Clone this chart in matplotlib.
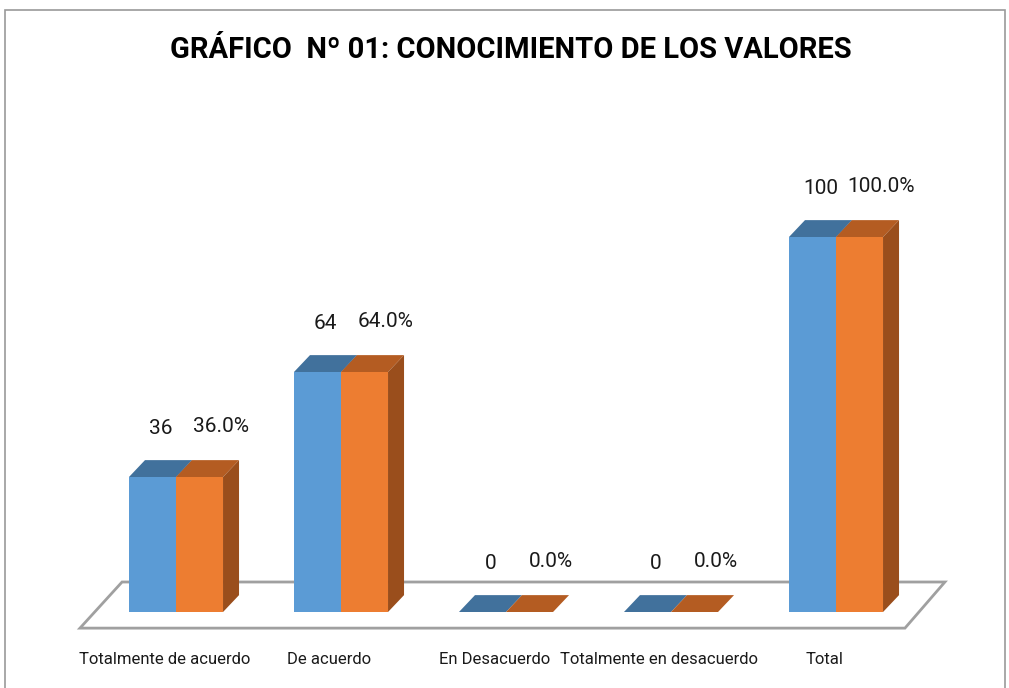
import matplotlib

matplotlib.use("Agg")

import matplotlib.pyplot as plt
from matplotlib.patches import Polygon, Rectangle

categories = ["Totalmente de acuerdo", "De acuerdo", "En Desacuerdo",
              "Totalmente en desacuerdo", "Total"]
counts = [36, 64, 0, 0, 100]
percents = [36.0, 64.0, 0.0, 0.0, 100.0]

FONT = ["Roboto", "DejaVu Sans"]

# bar geometry in data units
W = 0.285          # width of one bar
DX = 0.097         # depth offset, x
DY = 4.5           # depth offset, y

BLUE = ("#5B9BD5", "#41719C", "#3C6A93")
ORANGE = ("#ED7D31", "#B45C22", "#9A4E1C")


def bar3d(ax, x0, h, colors):
    front, top, side = colors
    ax.add_patch(Polygon([(x0, 0), (x0 + W, 0), (x0 + W, h), (x0, h)],
                         closed=True, facecolor=front, edgecolor="none", zorder=3))
    ax.add_patch(Polygon([(x0, h), (x0 + W, h), (x0 + W + DX, h + DY), (x0 + DX, h + DY)],
                         closed=True, facecolor=top, edgecolor="none", zorder=3))
    if h > 0:
        ax.add_patch(Polygon([(x0 + W, 0), (x0 + W + DX, DY), (x0 + W + DX, h + DY), (x0 + W, h)],
                             closed=True, facecolor=side, edgecolor="none", zorder=3))


fig = plt.figure(figsize=(10.09, 6.88), dpi=100)
ax = fig.add_axes([0, 0, 1, 1])
ax.set_xlim(-176 / 165, (1009 - 176) / 165)
ax.set_ylim(-76 / 3.75, 612 / 3.75)
ax.axis("off")

# chart frame
fig.patches.append(Rectangle((5 / 1009, -0.01), 1000 / 1009, 1 - 10 / 688 + 0.01,
                             transform=fig.transFigure, fill=False,
                             edgecolor="#9a9a9a", linewidth=1.2))

# floor
floor = Polygon([(-0.582, -4.3), (-0.327, 8.0), (4.66, 8.0), (4.418, -4.3)],
                closed=True, facecolor="white", edgecolor="#a0a0a0", linewidth=2, zorder=1)
ax.add_patch(floor)

for i, (c, p) in enumerate(zip(counts, percents)):
    bar3d(ax, i - W, c, BLUE)
    bar3d(ax, i, p, ORANGE)
    ax.text(i - W / 2 + DX / 2, c + DY + 8.5, f"{c}", ha="center", va="center",
            fontsize=15, family=FONT, color="#1a1a1a")
    ax.text(i + W / 2 + 0.13, p + DY + 9.0, f"{p:.1f}%", ha="center", va="center",
            fontsize=15, family=FONT, color="#1a1a1a")
    ax.text(i - 0.07, -12.8, categories[i], ha="center", va="center",
            fontsize=12, family=FONT, color="#1a1a1a")

fig.text(0.506, 0.927, "GRÁFICO  Nº 01: CONOCIMIENTO DE LOS VALORES",
         ha="center", va="center", fontsize=21, fontweight="bold", family=FONT)

fig.savefig("out.png", dpi=100)
